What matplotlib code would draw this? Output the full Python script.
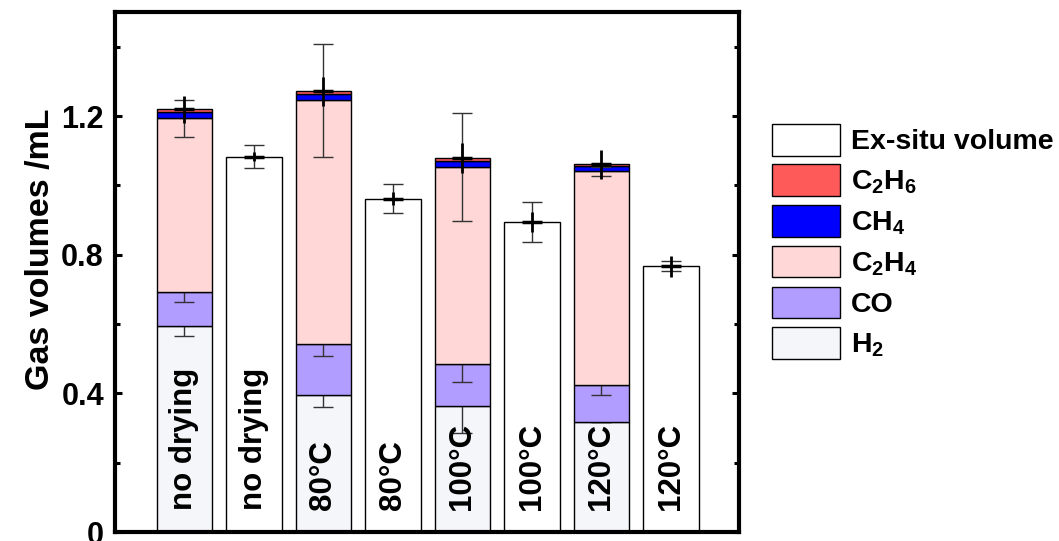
import numpy as np
import matplotlib.pyplot as plt
from matplotlib.patches import Patch
from matplotlib.ticker import MultipleLocator

# gas composition of the in-situ stacked bars (mL)
samples = ['no drying', '80°C', '100°C', '120°C']
h2 = [0.594, 0.394, 0.364, 0.317]
co = [0.098, 0.149, 0.121, 0.106]
c2h4 = [0.501, 0.703, 0.568, 0.617]
ch4 = [0.019, 0.018, 0.017, 0.015]
c2h6 = [0.007, 0.007, 0.008, 0.006]
ex_situ = [1.083, 0.962, 0.894, 0.767]

# error bars
h2_err = [0.029, 0.032, 0.078, 0.0]
co_err = [0.029, 0.035, 0.053, 0.029]
c2h4_err = [0.053, 0.163, 0.156, 0.012]
total_err = [0.040, 0.042, 0.043, 0.042]
ex_situ_err = [0.032, 0.043, 0.058, 0.015]
ex_situ_err2 = [0.012, 0.020, 0.030, 0.030]

plt.rcParams['font.family'] = ['Liberation Sans', 'DejaVu Sans']
plt.rcParams['font.weight'] = 'bold'
plt.rcParams['mathtext.fontset'] = 'custom'
plt.rcParams['mathtext.rm'] = 'Liberation Sans:bold'
plt.rcParams['mathtext.it'] = 'Liberation Sans:bold'
plt.rcParams['mathtext.bf'] = 'Liberation Sans:bold'
plt.rcParams['mathtext.default'] = 'bf'

colors = {'H2': '#F4F6FA', 'CO': '#B19CFF', 'C2H4': '#FFD7D7',
          'CH4': '#0000FF', 'C2H6': '#FF5A5A', 'ex': '#FFFFFF'}

fig = plt.figure(figsize=(10.59, 5.41), dpi=100)
ax = fig.add_axes([115 / 1059, 1 - 532 / 541, 624 / 1059, 520 / 541])

n = len(samples)
x_in = np.arange(n) * 2
x_ex = x_in + 1
w = 0.8

layers = [('H2', h2, h2_err), ('CO', co, co_err), ('C2H4', c2h4, c2h4_err),
          ('CH4', ch4, None), ('C2H6', c2h6, None)]
bottom = np.zeros(n)
for k, (name, vals, err) in enumerate(layers):
    vals = np.array(vals)
    ax.bar(x_in, vals, w, bottom=bottom, color=colors[name], edgecolor='black',
           linewidth=1, zorder=2 + 2 * k)
    top = bottom + vals
    if err is not None:
        z = 20 if name == 'C2H4' else 3 + 2 * k
        ax.errorbar(x_in, top, yerr=err, fmt='none', ecolor='#333333',
                    elinewidth=1, capsize=7, capthick=1, zorder=z)
    bottom = top

# overall error (thick)
ax.errorbar(x_in, bottom, yerr=total_err, fmt='_', color='black', ms=14,
            mew=2.5, elinewidth=2, capsize=0, zorder=21)

ax.bar(x_ex, ex_situ, w, color=colors['ex'], edgecolor='black', linewidth=1, zorder=2)
ax.errorbar(x_ex, ex_situ, yerr=ex_situ_err, fmt='none', ecolor='#333333',
            elinewidth=1, capsize=7, capthick=1, zorder=20)
ax.errorbar(x_ex, ex_situ, yerr=ex_situ_err2, fmt='_', color='black', ms=14,
            mew=2.5, elinewidth=2, capsize=0, zorder=21)

for i, s in enumerate(samples):
    for xx in (x_in[i], x_ex[i]):
        ax.text(xx, 0.063, s, rotation=90, ha='center', va='bottom',
                fontsize=22.5, fontweight='bold', zorder=30)

ax.set_xlim(-1.0, 7.98)
ax.set_ylim(0, 1.5)
ax.set_xticks([])
ax.set_yticks([0, 0.4, 0.8, 1.2])
ax.set_yticklabels(['0', '0.4', '0.8', '1.2'])
ax.yaxis.set_minor_locator(MultipleLocator(0.2))
ax.tick_params(axis='y', which='both', direction='in', left=True, right=True,
               labelsize=22, width=2.2, pad=8)
ax.tick_params(axis='y', which='major', length=5)
ax.tick_params(axis='y', which='minor', length=3.5)
for sp in ax.spines.values():
    sp.set_linewidth(3)
ax.set_ylabel('Gas volumes /mL', fontsize=24.5, fontweight='bold')
ax.yaxis.set_label_coords(-0.095, 0.543)

handles = [Patch(facecolor=colors['ex'], edgecolor='black', lw=1, label='Ex-situ volume'),
           Patch(facecolor=colors['C2H6'], edgecolor='black', lw=1, label='C$_2$H$_6$'),
           Patch(facecolor=colors['CH4'], edgecolor='black', lw=1, label='CH$_4$'),
           Patch(facecolor=colors['C2H4'], edgecolor='black', lw=1, label='C$_2$H$_4$'),
           Patch(facecolor=colors['CO'], edgecolor='black', lw=1, label='CO'),
           Patch(facecolor=colors['H2'], edgecolor='black', lw=1, label='H$_2$')]
fig.legend(handles=handles, loc='upper left', bbox_to_anchor=(772 / 1059, 1 - 124 / 541),
           frameon=False, fontsize=20.5, handlelength=2.39, handleheight=1.334,
           labelspacing=0.31, handletextpad=0.38, borderpad=0, borderaxespad=0)

fig.savefig('out.png', dpi=100)
